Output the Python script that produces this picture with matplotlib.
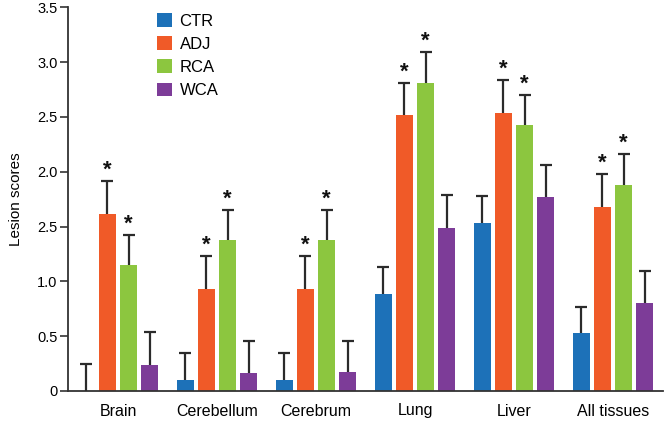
import matplotlib
matplotlib.use("Agg")
import matplotlib.pyplot as plt
import numpy as np

plt.rcParams['font.family'] = ['Liberation Sans', 'DejaVu Sans']

tissues = ["Brain", "Cerebellum", "Cerebrum", "Lung", "Liver", "All tissues"]
groups = ["CTR", "ADJ", "RCA", "WCA"]
ctr = [0.0, 0.10, 0.10, 0.885, 1.535, 0.53]
adj = [1.615, 0.93, 0.93, 2.52, 2.534, 1.68]
rca = [1.15, 1.378, 1.378, 2.81, 2.43, 1.88]
wca = [0.237, 0.167, 0.17, 1.49, 1.77, 0.806]
ctr_err = [0.25, 0.25, 0.25, 0.245, 0.245, 0.24]
adj_err = [0.30, 0.30, 0.30, 0.29, 0.30, 0.30]
rca_err = [0.27, 0.27, 0.27, 0.28, 0.27, 0.28]
wca_err = [0.30, 0.29, 0.29, 0.30, 0.29, 0.29]
signif = [False, True, True, False]  # asterisk on ADJ and RCA
yticks = [0, 0.5, 1.0, 1.5, 2.0, 2.5, 3.0, 3.5]
ytick_labels = ["0", "0.5", "1.0", "2.5", "2.0", "2.5", "3.0", "3.5"]

colors = ["#1d71b8", "#f05a28", "#8cc63f", "#7d3c98"]
values = [ctr, adj, rca, wca]
errors = [ctr_err, adj_err, rca_err, wca_err]

fig = plt.figure(figsize=(6.66, 4.22), dpi=100)
ax = fig.add_axes([68/666, 1-391/422, (663-68)/666, (391-7.4)/422])

x = np.arange(len(tissues))
step = 0.215
width = 0.172
offsets = [-1.5*step, -0.5*step, 0.5*step, 1.5*step]
ecol = "#2b2b2b"
for i, (g, v, e, c) in enumerate(zip(groups, values, errors, colors)):
    xs = x + offsets[i]
    ax.bar(xs, v, width=width, color=c, label=g, zorder=2)
    eb = ax.errorbar(xs, v, yerr=[np.zeros(len(v)), e], fmt='none', ecolor=ecol,
                     elinewidth=1.6, capsize=4.2, capthick=1.6, zorder=3)
    caps = eb.lines[1]
    if len(caps) > 0:
        caps[0].set_visible(False)
    if signif[i]:
        for xi, vi, ei in zip(xs, v, e):
            ax.annotate("*", (xi, vi + ei), xytext=(0, 0.5), textcoords="offset points",
                        ha="center", va="bottom", fontsize=16, fontweight="bold", color="#111111")

ax.set_xlim(-0.505, 5.505)
ax.set_ylim(0, 3.5)
ax.set_yticks(yticks)
ax.set_yticklabels(ytick_labels)
ax.set_xticks(x)
ax.set_xticklabels(tissues)
ax.tick_params(axis='x', length=0, pad=9, labelsize=11.5)
ax.tick_params(axis='y', length=5.5, width=1.2, pad=2, labelsize=10.5, color="#333333")
for s in ["top", "right"]:
    ax.spines[s].set_visible(False)
for s in ["left", "bottom"]:
    ax.spines[s].set_linewidth(1.3)
    ax.spines[s].set_color("#333333")
ax.set_ylabel("Lesion scores", fontsize=11, labelpad=10)

ax.legend(loc="upper left", bbox_to_anchor=(157/666, 1-13/422),
          bbox_transform=fig.transFigure, frameon=False, fontsize=12,
          handlelength=0.9, handleheight=0.9, handletextpad=0.45, labelspacing=0.45,
          borderaxespad=0, borderpad=0)

fig.savefig("out.png", dpi=100)
